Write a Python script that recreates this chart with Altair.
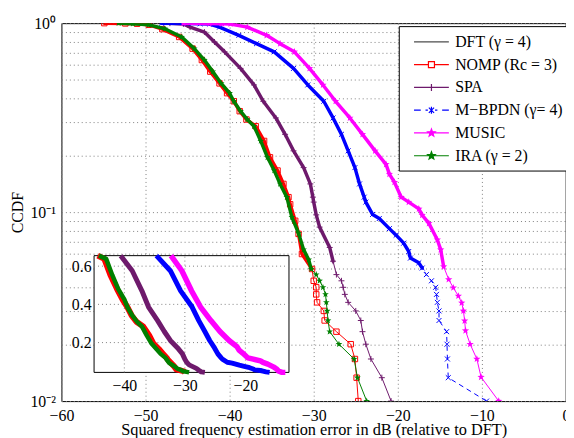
import altair as alt
import pandas as pd

FONT = "Liberation Serif"

# ---------------- data ----------------
series_names = ["DFT (γ = 4)", "NOMP (Rc = 3)", "SPA", "M−BPDN (γ= 4)", "MUSIC", "IRA (γ = 2)"]
series_colors = ["#4d4d4d", "#ff0000", "#6e1a6c", "#0000ff", "#ff00ff", "#008000"]
legend_fills = ["#4d4d4d", "#ffffff", "#6e1a6c", "#0000ff", "#ff00ff", "#008000"]

dft_x = [0.0, 0.0]
dft_p = [1.0, 0.01]

nomp_x = [-54.9, -52.4, -51.0, -49.6, -48.0, -46.0, -44.4, -43.3, -42.3, -41.2, -40.3, -39.5,
          -38.8, -38.0, -36.9, -35.9, -35.2, -34.3, -33.6, -33.0, -32.8, -32.2, -31.8, -31.4,
          -30.2, -30.0, -29.7, -29.7, -29.6, -28.8, -28.7, -27.3, -25.6, -25.1, -24.9, -24.7]
nomp_p = [1.0, 0.9967, 0.993, 0.98, 0.93, 0.845, 0.733, 0.638, 0.554, 0.48, 0.426, 0.386,
          0.342, 0.309, 0.285, 0.238, 0.195, 0.166, 0.141, 0.12, 0.11, 0.09, 0.0767, 0.06,
          0.05, 0.0433, 0.04, 0.0367, 0.0333, 0.03, 0.0267, 0.0233, 0.02, 0.0167, 0.0133, 0.01]

spa_x = [-47.1, -45.5, -44.7, -43.0, -41.8, -40.6, -38.7, -37.1, -36.0, -34.5, -33.4, -32.4,
         -31.2, -30.4, -30.1, -30.0, -29.7, -29.3, -28.1, -27.7, -27.3, -26.7, -26.5, -26.3,
         -25.9, -25.0, -24.4, -24.2, -23.8, -23.2, -21.9, -20.8]
spa_p = [1.0, 0.99, 0.953, 0.897, 0.795, 0.705, 0.576, 0.471, 0.386, 0.315, 0.258, 0.211,
         0.172, 0.141, 0.12, 0.113, 0.0967, 0.0833, 0.065, 0.055, 0.0467, 0.0433, 0.04, 0.0367,
         0.0333, 0.03, 0.0267, 0.0233, 0.02, 0.0167, 0.0133, 0.01]

mbpdn_x = [-48.1, -45.0, -43.5, -42.4, -41.2, -38.9, -36.8, -34.7, -32.4, -30.7, -28.8, -27.7,
           -26.7, -25.9, -25.1, -24.55, -24.0, -23.8, -23.0, -22.2, -21.0, -20.2, -19.3, -18.7,
           -18.5, -17.5, -17.1, -16.6, -16.0, -15.5, -15.4, -15.3, -15.1, -15.1, -14.2, -14.15,
           -14.1, -14.0, -9.45]
mbpdn_p = [1.0, 0.997, 0.993, 0.99, 0.953, 0.862, 0.779, 0.705, 0.576, 0.471, 0.386, 0.315,
           0.258, 0.211, 0.172, 0.141, 0.12, 0.113, 0.0972, 0.0925, 0.0818, 0.0755, 0.0685, 0.0619,
           0.0571, 0.0539, 0.0506, 0.0467, 0.0433, 0.04, 0.0367, 0.0333, 0.03, 0.0267, 0.0233, 0.02,
           0.0167, 0.0133, 0.01]

music_x = [-45.5, -42.4, -40.9, -39.9, -37.9, -35.6, -34.0, -32.3, -30.5, -28.9, -27.4, -25.7,
           -24.2, -22.7, -21.4, -21.0, -20.4, -19.6, -18.7, -17.5, -17.1, -16.3, -15.3, -14.9,
           -14.55, -13.95, -13.4, -12.8, -12.4, -12.2, -12.05, -11.95, -11.4, -10.6, -10.1, -8.0]
music_p = [1.0, 0.997, 0.993, 0.99, 0.953, 0.862, 0.779, 0.705, 0.576, 0.471, 0.386, 0.315,
           0.258, 0.211, 0.179, 0.159, 0.144, 0.12, 0.113, 0.104, 0.0964, 0.0872, 0.0714, 0.0633,
           0.0515, 0.044, 0.0398, 0.036, 0.0331, 0.03, 0.0266, 0.0236, 0.02, 0.0167, 0.0134, 0.01]

ira_x = [-53.2, -51.5, -49.6, -47.7, -45.7, -44.2, -43.0, -42.0, -41.0, -40.0, -39.5, -38.7,
         -37.9, -37.1, -36.3, -35.5, -34.7, -34.0, -33.2, -32.6, -31.8, -31.2, -30.6, -30.3,
         -29.7, -29.3, -28.9, -28.6, -28.5, -28.4, -28.3, -28.1, -27.0, -25.2, -24.8, -23.7]
ira_p = [1.0, 0.993, 0.98, 0.934, 0.845, 0.733, 0.638, 0.554, 0.48, 0.426, 0.386, 0.342,
         0.309, 0.285, 0.238, 0.195, 0.166, 0.141, 0.12, 0.094, 0.0773, 0.0633, 0.056, 0.05,
         0.0467, 0.0433, 0.04, 0.0367, 0.0333, 0.03, 0.0267, 0.0233, 0.02, 0.0167, 0.0133, 0.01]

x_ticks = [-60, -50, -40, -30, -20, -10, 0]
y_grid = [0.01, 0.02, 0.03, 0.04, 0.05, 0.06, 0.07, 0.08, 0.09,
          0.1, 0.2, 0.3, 0.4, 0.5, 0.6, 0.7, 0.8, 0.9, 1.0]
inset_x_ticks = [-40, -30, -20]
inset_p_ticks = [0.2, 0.4, 0.6]
inset_x_domain = [-45.0, -12.8]
inset_p_domain = [0.044, 0.655]

# ---------------- style ----------------
W, H = 510, 382
INSET_X_RANGE = [33, 230]
INSET_Y_RANGE = [353, 235]
BAND_FROM = 0.05
GRID = "#808080"

STAR_PTS = [(0, -1), (0.247, -0.34), (0.951, -0.309), (0.399, 0.13), (0.588, 0.809),
            (0, 0.42), (-0.588, 0.809), (-0.399, 0.13), (-0.951, -0.309), (-0.247, -0.34)]


def star_path(s):
    pts = ["%g,%g" % (round(px * s, 3), round(py * s, 3)) for px, py in STAR_PTS]
    return "M" + "L".join(pts) + "Z"


STAR = star_path(1.0)
PLUS = "M-1,0H1M0,-1V1"
XMARK = "M-1,-1L1,1M-1,1L1,-1"
LINE = "M-2.2,0H2.2"
legend_paths = [
    LINE,
    "M-2.2,0H-0.38M0.38,0H2.2M-0.38,-0.38H0.38V0.38H-0.38Z",
    LINE + "M0,-0.45V0.45",
    "M-2.2,0H-1.35M-0.75,0H-0.45M0.45,0H0.75M1.35,0H2.2"
    "M-0.33,-0.33L0.33,0.33M-0.33,0.33L0.33,-0.33M0,-0.45V0.45",
    LINE + star_path(0.5),
    LINE + star_path(0.5),
]


def frame(xs, ps):
    return pd.DataFrame({"x": xs, "p": ps, "i": list(range(len(xs)))})


label_expr = ("datum.value > 0.99 ? '10⁰' : "
              "(abs(datum.value - 0.1) < 1e-6 ? '10⁻¹' : "
              "(abs(datum.value - 0.01) < 1e-6 ? '10⁻²' : ''))")

x_main = alt.X(
    "x:Q",
    scale=alt.Scale(domain=[-60, 0], nice=False, zero=False),
    axis=alt.Axis(values=x_ticks, title="Squared frequency estimation error in dB (relative to DFT)",
                  grid=True, gridColor=GRID, gridDash=[1, 3], gridWidth=1, ticks=False, domain=False,
                  labelFont=FONT, labelFontSize=16, labelColor="black", labelPadding=7,
                  labelFlush=False, labelOverlap=False,
                  titleFont=FONT, titleFontSize=16.5, titleFontWeight="normal", titleColor="black",
                  titleY=33.5, titleBaseline="alphabetic"),
)
y_main = alt.Y(
    "p:Q",
    scale=alt.Scale(type="log", domain=[0.01, 1], nice=False),
    axis=alt.Axis(values=y_grid, labelExpr=label_expr, title="CCDF",
                  grid=True, gridColor=GRID, gridDash=[1, 3], gridWidth=1, ticks=False, domain=False,
                  labelFont=FONT, labelFontSize=16, labelColor="black", labelPadding=6,
                  labelOverlap=False,
                  titleFont=FONT, titleFontSize=16, titleFontWeight="normal", titleColor="black",
                  titleX=-44, titleY=191, titleAngle=270, titleBaseline="middle", titleAlign="center"),
)
order = alt.Order("i:Q")


def series_layers(df, color, shape, size, filled, dash=None, band=True):
    out = []
    if band:
        out.append(alt.Chart(df[df.p >= BAND_FROM]).mark_line(
            color=color, strokeWidth=3.5, strokeJoin="round", strokeCap="round", clip=True
        ).encode(x=x_main, y=y_main, order=order))
    kw = dict(color=color, strokeWidth=1, clip=True)
    if dash:
        kw["strokeDash"] = dash
    out.append(alt.Chart(df).mark_line(**kw).encode(x=x_main, y=y_main, order=order))
    if shape:
        out.append(alt.Chart(df).mark_point(
            shape=shape, size=size, filled=filled, color=color, strokeWidth=1, opacity=1, clip=True
        ).encode(x=x_main, y=y_main))
    return out


df_dft = frame(dft_x, dft_p)
df_nomp = frame(nomp_x, nomp_p)
df_spa = frame(spa_x, spa_p)
df_mbpdn = frame(mbpdn_x, mbpdn_p)
df_music = frame(music_x, music_p)
df_ira = frame(ira_x, ira_p)

leg = alt.Legend(title=None, orient="none", legendX=341, legendY=3, symbolSize=256,
                 symbolStrokeWidth=1.2, labelFont=FONT, labelFontSize=16, labelColor="black",
                 padding=7, rowPadding=6, symbolOffset=17, labelOffset=15,
                 strokeColor="black", fillColor="white", labelLimit=400, symbolOpacity=1)

legend_layer = alt.Chart(pd.DataFrame({"series": series_names})).transform_filter("false").mark_point(
    filled=True, opacity=1, strokeWidth=1.2
).encode(
    stroke=alt.Stroke("series:N", scale=alt.Scale(domain=series_names, range=series_colors), legend=leg),
    fill=alt.Fill("series:N", scale=alt.Scale(domain=series_names, range=legend_fills), legend=leg),
    shape=alt.Shape("series:N", scale=alt.Scale(domain=series_names, range=legend_paths), legend=leg),
)

main_layers = [legend_layer]
main_layers += series_layers(df_dft, series_colors[0], None, 0, False, band=False)
main_layers += series_layers(df_nomp, series_colors[1], "square", 30, False)
main_layers += series_layers(df_spa, series_colors[2], PLUS, 36, False)
main_layers += series_layers(df_mbpdn, series_colors[3], XMARK, 25, False, dash=[5, 4])
main_layers += series_layers(df_music, series_colors[4], STAR, 60, True)
main_layers += series_layers(df_ira, series_colors[5], STAR, 50, True)
main = alt.layer(*main_layers)

# ---------------- inset ----------------
x_in = alt.X(
    "x:Q",
    scale=alt.Scale(domain=inset_x_domain, range=INSET_X_RANGE, clamp=True, nice=False, zero=False),
    axis=alt.Axis(orient="bottom", offset=-29, values=inset_x_ticks, grid=False, ticks=False,
                  domain=False, labelFont=FONT, labelFontSize=16, labelColor="black",
                  labelPadding=5, labelFlush=False, title=None),
)
y_in = alt.Y(
    "p:Q",
    scale=alt.Scale(domain=inset_p_domain, range=INSET_Y_RANGE, clamp=True, nice=False, zero=False),
    axis=alt.Axis(orient="left", offset=-33, values=inset_p_ticks, format=".1f", grid=False,
                  ticks=False, domain=False, labelFont=FONT, labelFontSize=16, labelColor="black",
                  labelPadding=3, title=None),
)


def inset_frame(df):
    inside = df[(df.p >= inset_p_domain[0]) & (df.p <= inset_p_domain[1])]
    lo = max(int(inside.index.min()) - 1, 0)
    hi = min(int(inside.index.max()) + 1, len(df) - 1)
    return df.loc[lo:hi]


box = alt.Chart(pd.DataFrame({"x": [inset_x_domain[0]], "x2": [inset_x_domain[1]],
                              "p": [inset_p_domain[0]], "p2": [inset_p_domain[1]]})).mark_rect(
    fill="white", stroke="black", strokeWidth=1
).encode(x=x_in, x2=alt.X2("x2"), y=y_in, y2=alt.Y2("p2"))

vgrid = alt.Chart(pd.DataFrame({"x": inset_x_ticks, "p": [inset_p_domain[0]] * 3,
                                "p2": [inset_p_domain[1]] * 3})).mark_rule(
    color=GRID, strokeDash=[1, 3], strokeWidth=1
).encode(x=x_in, y=y_in, y2=alt.Y2("p2"))
hgrid = alt.Chart(pd.DataFrame({"p": inset_p_ticks, "x": [inset_x_domain[0]] * 3,
                                "x2": [inset_x_domain[1]] * 3})).mark_rule(
    color=GRID, strokeDash=[1, 3], strokeWidth=1
).encode(y=y_in, x=x_in, x2=alt.X2("x2"))

inset_layers = [box, vgrid, hgrid]
for df, col, sw in [(df_nomp, series_colors[1], 6), (df_spa, series_colors[2], 5),
                    (df_mbpdn, series_colors[3], 5), (df_music, series_colors[4], 5.5),
                    (df_ira, series_colors[5], 4.5)]:
    inset_layers.append(alt.Chart(inset_frame(df)).mark_line(
        color=col, strokeWidth=sw, strokeJoin="round", strokeCap="butt"
    ).encode(x=x_in, y=y_in, order=order))
inset = alt.layer(*inset_layers)

chart = alt.layer(main, inset).resolve_scale(x="independent", y="independent").properties(
    width=W, height=H,
    padding={"left": 54, "top": 13, "right": 0, "bottom": 35},
    autosize=alt.AutoSizeParams(type="none"),
    background="white",
).configure_view(stroke="black", strokeWidth=1)

chart.save("out.html", embed_options={"renderer": "svg", "actions": False})
